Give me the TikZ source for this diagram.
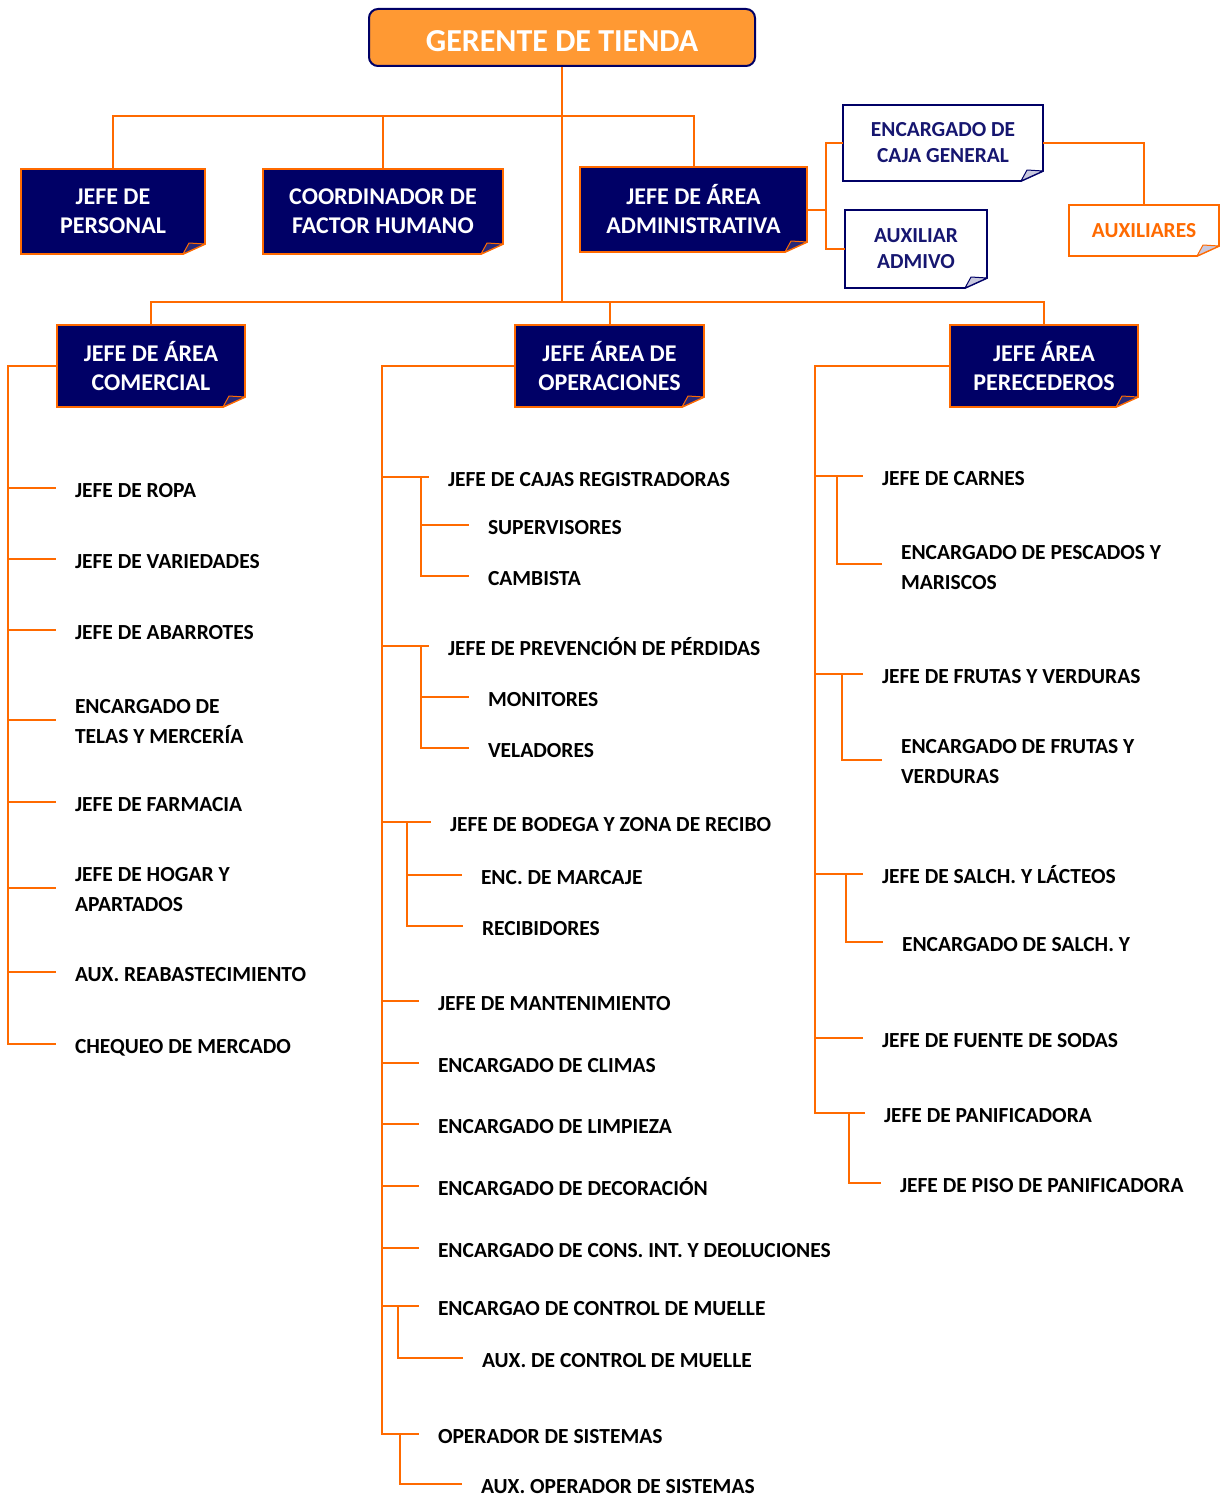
\documentclass[tikz,border=0pt]{standalone}
\usepackage{fontspec}
\setmainfont{Carlito}
\usetikzlibrary{backgrounds}
\definecolor{lineor}{RGB}{255,106,0}
\definecolor{navyfill}{RGB}{0,0,102}
\definecolor{navytext}{RGB}{22,22,112}
\definecolor{topfill}{RGB}{255,153,51}
\definecolor{foldnavy}{RGB}{40,40,120}
\definecolor{foldlight}{RGB}{200,200,222}

% frame with a dog-eared bottom right corner, drawn behind a named node
\newcommand\earframe[4]{%
  \filldraw[fill=#2, draw=#3, line width=1.8pt, line join=miter]
    (#1.north west) -- (#1.north east) -- ([yshift=10pt]#1.south east)
    -- ([xshift=-22pt]#1.south east) -- (#1.south west) -- cycle;
  \filldraw[fill=#4, draw=#3, line width=1pt, line join=round]
    ([xshift=-22pt]#1.south east) -- ([xshift=-16pt,yshift=11pt]#1.south east)
    -- ([yshift=10pt]#1.south east) -- cycle;
}

\begin{document}
\begin{tikzpicture}[x=1pt, y=-1pt,
  conn/.style={draw=lineor, line width=2pt},
  topbox/.style={fill=topfill, draw=navyfill, line width=2pt, rounded corners=9pt,
    minimum width=386pt, minimum height=57pt, text=white,
    font=\fontsize{32}{36}\selectfont\bfseries, text height=29pt, text depth=0pt},
  navybox/.style={inner sep=0pt, outer sep=0pt, text=white, align=center,
    font=\fontsize{24}{29}\selectfont\bfseries},
  whitebox/.style={inner sep=0pt, outer sep=0pt, text=navytext, align=center,
    font=\fontsize{21.4}{26}\selectfont\bfseries},
  item/.style={anchor=west, inner xsep=19pt, inner ysep=0pt, outer sep=0pt,
    align=left, text=black, font=\fontsize{21.5}{30}\selectfont\bfseries},
  one/.style={text height=18pt, text depth=0pt}]
\useasboundingbox (0,0) rectangle (1220,1498);

% ---------- boxes ----------
\node[topbox] (ger) at (562,37.5) {GERENTE DE TIENDA};

\node[navybox, minimum width=184pt, minimum height=85pt] (per) at (113,211.5) {JEFE DE\\PERSONAL};
\node[navybox, minimum width=240pt, minimum height=85pt] (coo) at (383,211.5) {COORDINADOR DE\\FACTOR HUMANO};
\node[navybox, minimum width=227pt, minimum height=85pt] (adm) at (693.5,209.5) {JEFE DE ÁREA\\ADMINISTRATIVA};

\node[whitebox, minimum width=200pt, minimum height=76pt] (caja) at (943,143) {ENCARGADO DE\\CAJA GENERAL};
\node[whitebox, minimum width=142pt, minimum height=78pt] (aux) at (916,249) {AUXILIAR\\ADMIVO};
\node[whitebox, text=lineor, minimum width=150pt, minimum height=51pt] (auxs) at (1144,230.5) {AUXILIARES};

\node[navybox, minimum width=188pt, minimum height=82pt] (com) at (151,366) {JEFE DE ÁREA\\COMERCIAL};
\node[navybox, minimum width=189pt, minimum height=82pt] (ope) at (609.5,366) {JEFE ÁREA DE\\OPERACIONES};
\node[navybox, minimum width=188pt, minimum height=82pt] (pere) at (1044,366) {JEFE ÁREA\\PERECEDEROS};

\begin{pgfonlayer}{background}
  \earframe{per}{navyfill}{lineor}{foldnavy}
  \earframe{coo}{navyfill}{lineor}{foldnavy}
  \earframe{adm}{navyfill}{lineor}{foldnavy}
  \earframe{com}{navyfill}{lineor}{foldnavy}
  \earframe{ope}{navyfill}{lineor}{foldnavy}
  \earframe{pere}{navyfill}{lineor}{foldnavy}
  \earframe{caja}{white}{navyfill}{foldlight}
  \earframe{aux}{white}{navyfill}{foldlight}
  \earframe{auxs}{white}{lineor}{foldlight}
\end{pgfonlayer}

% ---------- commercial column ----------
\node[item, one] (c1) at (56,488) {JEFE DE ROPA};
\node[item, one] (c2) at (56,559) {JEFE DE VARIEDADES};
\node[item, one] (c3) at (56,630) {JEFE DE ABARROTES};
\node[item] (c4) at (56,722) {ENCARGADO DE\\TELAS Y MERCERÍA};
\node[item, one] (c5) at (56,802) {JEFE DE FARMACIA};
\node[item] (c6) at (56,890) {JEFE DE HOGAR Y\\APARTADOS};
\node[item, one] (c7) at (56,972) {AUX. REABASTECIMIENTO};
\node[item, one] (c8) at (56,1044) {CHEQUEO DE MERCADO};

% ---------- operations column ----------
\node[item, one] (o1) at (429,477) {JEFE DE CAJAS REGISTRADORAS};
\node[item, one] (o1a) at (469,525) {SUPERVISORES};
\node[item, one] (o1b) at (469,576) {CAMBISTA};
\node[item, one] (o2) at (429,646) {JEFE DE PREVENCIÓN DE PÉRDIDAS};
\node[item, one] (o2a) at (469,697) {MONITORES};
\node[item, one] (o2b) at (469,748) {VELADORES};
\node[item, one] (o3) at (431,822) {JEFE DE BODEGA Y ZONA DE RECIBO};
\node[item, one] (o3a) at (462,875) {ENC. DE MARCAJE};
\node[item, one] (o3b) at (463,926) {RECIBIDORES};
\node[item, one] (o4) at (419,1001) {JEFE DE MANTENIMIENTO};
\node[item, one] (o5) at (419,1063) {ENCARGADO DE CLIMAS};
\node[item, one] (o6) at (419,1124) {ENCARGADO DE LIMPIEZA};
\node[item, one] (o7) at (419,1186) {ENCARGADO DE DECORACIÓN};
\node[item, one] (o8) at (419,1248) {ENCARGADO DE CONS. INT. Y DEOLUCIONES};
\node[item, one] (o9) at (419,1306) {ENCARGAO DE CONTROL DE MUELLE};
\node[item, one] (o9a) at (463,1358) {AUX. DE CONTROL DE MUELLE};
\node[item, one] (o10) at (419,1434) {OPERADOR DE SISTEMAS};
\node[item, one] (o10a) at (462,1484) {AUX. OPERADOR DE SISTEMAS};

% ---------- perishables column ----------
\node[item, one] (p1) at (863,476) {JEFE DE CARNES};
\node[item] (p1a) at (882,568) {ENCARGADO DE PESCADOS Y\\MARISCOS};
\node[item, one] (p2) at (863,674) {JEFE DE FRUTAS Y VERDURAS};
\node[item] (p2a) at (882,762) {ENCARGADO DE FRUTAS Y\\VERDURAS};
\node[item, one] (p3) at (863,874) {JEFE DE SALCH. Y LÁCTEOS};
\node[item, one] (p3a) at (883,942) {ENCARGADO DE SALCH. Y};
\node[item, one] (p4) at (863,1038) {JEFE DE FUENTE DE SODAS};
\node[item, one] (p5) at (865,1113) {JEFE DE PANIFICADORA};
\node[item, one] (p5a) at (881,1183) {JEFE DE PISO DE PANIFICADORA};

% ---------- connector junctions ----------
\coordinate (t1) at (562,116);
\coordinate (t2) at (562,302);
\coordinate (ta) at (826,210);
\coordinate (tc) at (8,0);
\coordinate (to) at (382,0);
\coordinate (tp) at (815,0);

% ---------- connectors ----------
\draw[conn] (ger.south) -- (t2);
\draw[conn] (per.north) |- (t1) -| (adm.north);
\draw[conn] (coo.north) -- (coo.north |- t1);
\draw[conn] (com.north) |- (t2) -| (pere.north);
\draw[conn] (ope.north) -- (ope.north |- t2);

\draw[conn] (adm.east) -- (adm.east -| ta);
\draw[conn] (caja.west) -| (ta) |- (aux.west);
\draw[conn] (caja.east) -| (auxs.north);

% commercial
\draw[conn] (com.west) -| (c8.west -| tc) -- (c8.west);
\foreach \n in {c1,c2,c3,c5,c7}
  \draw[conn] (\n.west -| tc) -- (\n.west);
\foreach \n in {c4,c6}
  \draw[conn] ([yshift=2pt]\n.west -| tc) -- ([yshift=2pt]\n.west);

% operations
\draw[conn] (ope.west) -| (o10.west -| to) -- (o10.west);
\foreach \n in {o1,o2,o3,o4,o5,o6,o7,o8,o9}
  \draw[conn] (\n.west -| to) -- (\n.west);
\draw[conn] ([xshift=-8pt]o1.west) |- (o1b.west);
\draw[conn] ([xshift=-8pt]o1.west |- o1a.west) -- (o1a.west);
\draw[conn] ([xshift=-8pt]o2.west) |- (o2b.west);
\draw[conn] ([xshift=-8pt]o2.west |- o2a.west) -- (o2a.west);
\draw[conn] ([xshift=-24pt]o3.west) |- (o3b.west);
\draw[conn] ([xshift=-24pt]o3.west |- o3a.west) -- (o3a.west);
\draw[conn] ([xshift=-21pt]o9.west) |- (o9a.west);
\draw[conn] ([xshift=-19pt]o10.west) |- (o10a.west);

% perishables
\draw[conn] (pere.west) -| (p5.west -| tp) -- (p5.west);
\foreach \n in {p1,p2,p3,p4}
  \draw[conn] (\n.west -| tp) -- (\n.west);
\draw[conn] ([xshift=-26pt]p1.west) |- ([yshift=4pt]p1a.west);
\draw[conn] ([xshift=-21pt]p2.west) |- ([yshift=2pt]p2a.west);
\draw[conn] ([xshift=-17pt]p3.west) |- (p3a.west);
\draw[conn] ([xshift=-16pt]p5.west) |- (p5a.west);
\end{tikzpicture}
\end{document}
